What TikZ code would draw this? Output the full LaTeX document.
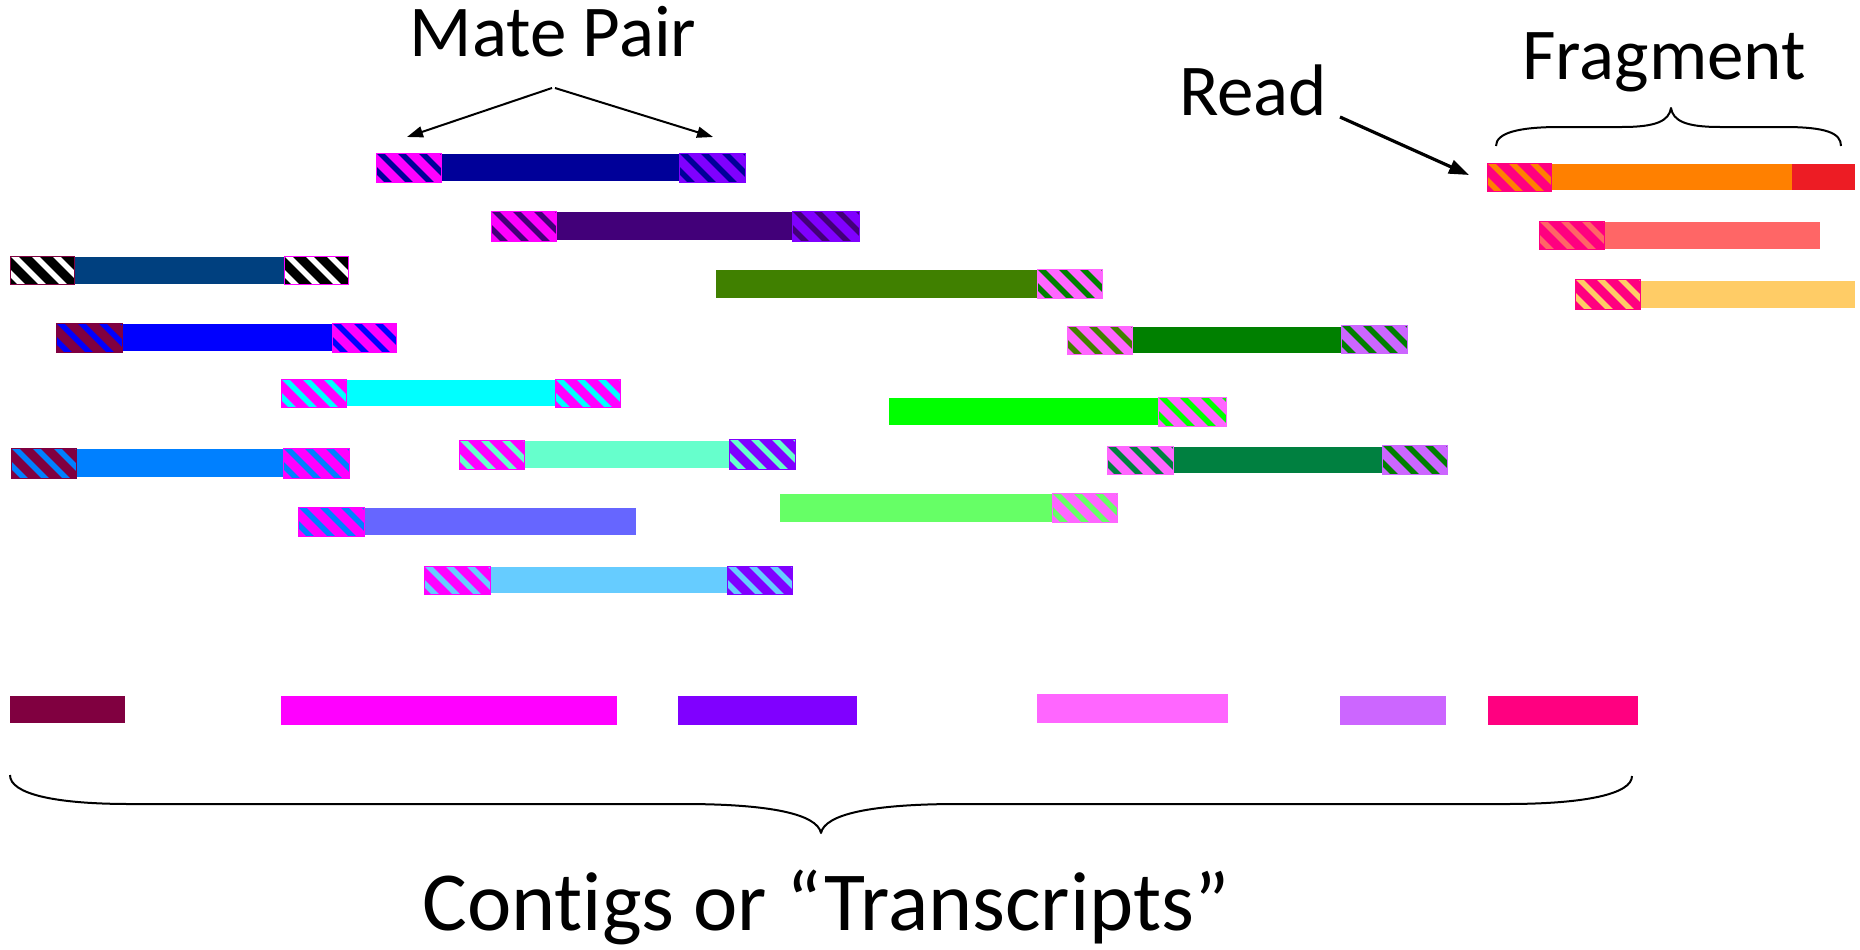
\documentclass[tikz,border=0pt]{standalone}
\usepackage{fontspec}
\setmainfont{Carlito}[Ligatures={NoCommon,NoRequired,NoContextual}]
\usetikzlibrary{arrows.meta}

% contig colours (also used as hatch backgrounds)
\definecolor{cmaroon}{HTML}{800040}
\definecolor{cmagenta}{HTML}{FF00FF}
\definecolor{cviolet}{HTML}{8000FF}
\definecolor{clmagenta}{HTML}{FF66FF}
\definecolor{clviolet}{HTML}{CC66FF}
\definecolor{cdeeppink}{HTML}{FF0080}
% read colours
\definecolor{rdarkblue}{HTML}{000099}
\definecolor{rindigo}{HTML}{420079}
\definecolor{rnavy}{HTML}{00407F}
\definecolor{rblue}{HTML}{0000FF}
\definecolor{rcyan}{HTML}{00FFFF}
\definecolor{razure}{HTML}{0080FF}
\definecolor{raqua}{HTML}{66FFCC}
\definecolor{rslate}{HTML}{6666FF}
\definecolor{rsky}{HTML}{66CCFF}
\definecolor{rolive}{HTML}{408000}
\definecolor{rgreen}{HTML}{008000}
\definecolor{rlime}{HTML}{00FF00}
\definecolor{rsea}{HTML}{008040}
\definecolor{rlgreen}{HTML}{66FF66}
\definecolor{rorange}{HTML}{FF8000}
\definecolor{rred}{HTML}{ED1C24}
\definecolor{rsalmon}{HTML}{FF6666}
\definecolor{rlorange}{HTML}{FFCC66}

% striped end piece: x1,y1,x2,y2, background, stripe colour, border colour
\newcommand{\hatchbox}[7]{%
  \begin{scope}
    \clip (#1,#2) rectangle (#3,#4);
    \fill[#5] (#1,#2) rectangle (#3,#4);
    \foreach \t in {-42,-21,...,84}
      \draw[#6, line width=5.5pt] ({#1+\t},{#2-4}) -- ++(44,44);
  \end{scope}
  \draw[#7, line width=1pt] (#1,#2) rectangle (#3,#4);}

\tikzset{
  label/.style={font=\fontsize{73}{88}\selectfont, inner sep=0pt, anchor=base},
  biglabel/.style={font=\fontsize{84}{100}\selectfont, inner sep=0pt, anchor=base},
  pointer/.style={line width=2pt, -{Triangle[length=16pt,width=11pt]}},
  bigpointer/.style={line width=3.2pt, -{Triangle[length=20pt,width=14pt]}},
  brace/.style={line width=2pt, line join=round},
}

\begin{document}
\begin{tikzpicture}[x=1pt,y=-1pt]
\useasboundingbox (0,0) rectangle (1860,950);

% ---- mate-pair reads ----
\fill[rdarkblue] (441,154) rectangle (679,181);
\hatchbox{376}{153}{441}{182}{cmagenta}{rdarkblue}{cmagenta}
\hatchbox{679}{153}{745}{182}{cviolet}{rdarkblue}{cviolet}

\fill[rindigo] (556,212) rectangle (792,240);
\hatchbox{491}{211}{556}{241}{cmagenta}{rindigo}{cmagenta}
\hatchbox{792}{211}{859}{241}{cviolet}{rindigo}{cviolet}

\fill[rnavy] (74,257) rectangle (284,284);
\hatchbox{10}{256}{74}{284}{black}{white}{cmaroon}
\hatchbox{284}{256}{348}{284}{black}{white}{cmagenta}

\fill[rblue] (122,324) rectangle (332,351);
\hatchbox{56}{323}{122}{352}{cmaroon}{rblue}{cmaroon}
\hatchbox{332}{323}{396}{352}{cmagenta}{rblue}{cmagenta}

\fill[rcyan] (346,380) rectangle (555,406);
\hatchbox{281}{379}{346}{407}{cmagenta}{rcyan}{cmagenta}
\hatchbox{555}{379}{620}{407}{cmagenta}{rcyan}{cmagenta}

\fill[razure] (76,449) rectangle (283,477);
\hatchbox{11}{448}{76}{478}{cmaroon}{razure}{cmaroon}
\hatchbox{283}{448}{349}{478}{cmagenta}{razure}{cmagenta}

\fill[raqua] (524,441) rectangle (729,468);
\hatchbox{459}{440}{524}{469}{cmagenta}{raqua}{cmagenta}
\hatchbox{729}{439}{795}{469}{cviolet}{raqua}{cviolet}

\fill[rslate] (364,508) rectangle (636,535);
\hatchbox{298}{507}{364}{536}{cmagenta}{razure}{cmagenta}

\fill[rsky] (490,567) rectangle (727,593);
\hatchbox{424}{566}{490}{594}{cmagenta}{rsky}{cmagenta}
\hatchbox{727}{566}{792}{594}{cviolet}{rsky}{cviolet}

\fill[rolive] (716,270) rectangle (1037,298);
\hatchbox{1037}{269}{1102}{298}{clmagenta}{rgreen}{clmagenta}

\fill[rgreen] (1132,327) rectangle (1341,353);
\hatchbox{1067}{326}{1132}{354}{clmagenta}{rolive}{clmagenta}
\hatchbox{1341}{325}{1407}{353}{clviolet}{rgreen}{clviolet}

\fill[rlime] (889,398) rectangle (1158,425);
\hatchbox{1158}{397}{1226}{426}{clmagenta}{rlime}{clmagenta}

\fill[rsea] (1173,447) rectangle (1382,473);
\hatchbox{1107}{446}{1173}{474}{clmagenta}{rsea}{clmagenta}
\hatchbox{1382}{445}{1447}{474}{clviolet}{rgreen}{clviolet}

\fill[rlgreen] (780,494) rectangle (1052,522);
\hatchbox{1052}{493}{1117}{522}{clmagenta}{rlgreen}{clmagenta}

% ---- single-end fragments ----
\fill[rorange] (1551,164) rectangle (1792,190);
\fill[rred] (1792,164) rectangle (1855,190);
\hatchbox{1487}{163}{1551}{191}{cdeeppink}{rorange}{cdeeppink}

\fill[rsalmon] (1604,222) rectangle (1820,249);
\hatchbox{1539}{221}{1604}{249}{cdeeppink}{rsalmon}{cdeeppink}

\fill[rlorange] (1640,281) rectangle (1855,308);
\hatchbox{1575}{279}{1640}{309}{cdeeppink}{rlorange}{cdeeppink}

% ---- contigs ----
\fill[cmaroon]   (10,696)   rectangle (125,723);
\fill[cmagenta]  (281,696)  rectangle (617,725);
\fill[cviolet]   (678,696)  rectangle (857,725);
\fill[clmagenta] (1037,694) rectangle (1228,723);
\fill[clviolet]  (1340,696) rectangle (1446,725);
\fill[cdeeppink] (1488,696) rectangle (1638,725);

% ---- labels ----
\node[label] (mate) at (553,57) {Mate Pair};
\node[label] (read) at (1253,115) {Read};
\node[label] (frag) at (1664,80) {Fragment};
\node[biglabel] (contigs) at (826,930) {Cont\kern0pt igs or “Transcript\kern0pt s”};

% ---- pointers ----
\coordinate (mpleftstart) at (552,88);
\coordinate (mprightstart) at (555,88);
\coordinate (mplefttip) at (407,137);
\coordinate (mprighttip) at (713,137);
\draw[pointer] (mpleftstart) -- (mplefttip);
\draw[pointer] (mprightstart) -- (mprighttip);

\coordinate (readtail) at (1340,117);
\coordinate (readtip) at (1469,175);
\draw[bigpointer] (readtail) -- (readtip);

% ---- braces ----
\draw[brace] (1496,146) .. controls (1496,133) and (1518,127) .. (1560,127)
  -- (1622,127) .. controls (1656,127) and (1669,121) .. (1671,108)
  .. controls (1673,121) and (1686,127) .. (1720,127)
  -- (1784,127) .. controls (1826,127) and (1841,133) .. (1841,146);

\draw[brace] (10,775) .. controls (10,794) and (55,804) .. (130,804)
  -- (683,804) .. controls (770,804) and (817,814) .. (821,833)
  .. controls (825,814) and (872,804) .. (959,804)
  -- (1506,804) .. controls (1585,804) and (1632,794) .. (1632,776);
\end{tikzpicture}
\end{document}
